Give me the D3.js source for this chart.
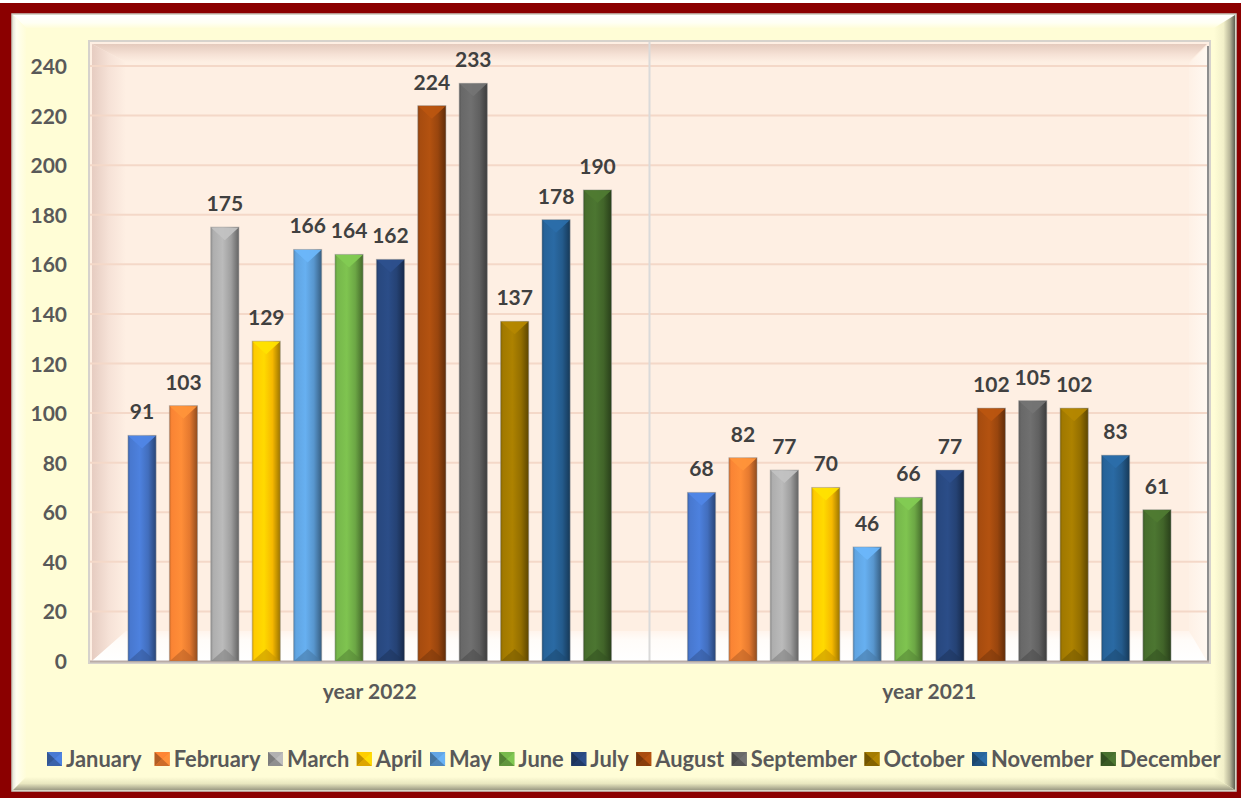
<!DOCTYPE html>
<html><head><meta charset="utf-8">
<script src="https://cdn.jsdelivr.net/npm/d3@7"></script>
<style>html,body{margin:0;padding:0;background:#fff;} svg{display:block;}</style>
</head><body>
<svg id="c" width="1241" height="798"></svg>
<script>
const years = ["year 2022", "year 2021"];
const months = ["January","February","March","April","May","June","July","August","September","October","November","December"];
const values2022 = [91,103,175,129,166,164,162,224,233,137,178,190];
const values2021 = [68,82,77,70,46,66,77,102,105,102,83,61];
const yTicks = [0,20,40,60,80,100,120,140,160,180,200,220,240];
const monthColors = ["#4472C4","#ED7D31","#A5A5A5","#FFC000","#5B9BD5","#70AD47","#264478","#9E480E","#636363","#997300","#255E91","#43682B"];

const seriesByYear = [values2022, values2021];
const W = 1241, H = 798;
const svg = d3.select("#c");
const defs = svg.append("defs");
const FONT = "Lato, 'Open Sans', sans-serif";

function lin(id, dir, stops) {
  const g = defs.append("linearGradient").attr("id", id)
    .attr("x1", 0).attr("y1", 0).attr("x2", dir === "h" ? 1 : 0).attr("y2", dir === "h" ? 0 : 1);
  stops.forEach(s => g.append("stop").attr("offset", s[0]).attr("stop-color", s[1]).attr("stop-opacity", s[2] == null ? 1 : s[2]));
  return `url(#${id})`;
}

// outer frame
svg.append("rect").attr("x", 0).attr("y", 3).attr("width", W).attr("height", H - 3).attr("fill", "#8B0000");
const P = {x0: 12, y0: 14, x1: 1236, y1: 791, b: 14};
svg.append("rect").attr("x", P.x0).attr("y", P.y0).attr("width", P.x1 - P.x0).attr("height", P.y1 - P.y0)
  .attr("fill", "#FFFDD6").attr("stroke", "#C9C9C0").attr("stroke-width", 1.5);
const pts = a => a.map(p => p.join(",")).join(" ");
svg.append("polygon").attr("points", pts([[P.x0+1,P.y0+1],[P.x1-1,P.y0+1],[P.x1-P.b,P.y0+P.b],[P.x0+P.b,P.y0+P.b]]))
  .attr("fill", lin("bvT","v",[[0,"#FFFFFF"],[0.6,"#FFFFF4"],[1,"#FFFDDA"]]));
svg.append("polygon").attr("points", pts([[P.x0+1,P.y0+1],[P.x0+P.b,P.y0+P.b],[P.x0+P.b,P.y1-P.b],[P.x0+1,P.y1-1]]))
  .attr("fill", lin("bvL","h",[[0,"#E8E8DC"],[0.25,"#FFFFF0"],[1,"#FFFDD8"]]));
svg.append("polygon").attr("points", pts([[P.x1-1,P.y0+1],[P.x1-1,P.y1-1],[P.x1-P.b-8,P.y1-P.b],[P.x1-P.b-8,P.y0+P.b]]))
  .attr("fill", lin("bvR","h",[[0,"#FFFDD6"],[0.45,"#F2F0C9"],[0.75,"#B9B79A"],[1,"#5E5D50"]]));
svg.append("polygon").attr("points", pts([[P.x0+1,P.y1-1],[P.x0+P.b,P.y1-P.b],[P.x1-P.b-8,P.y1-P.b],[P.x1-1,P.y1-1]]))
  .attr("fill", lin("bvB","v",[[0,"#FFFDD6"],[0.5,"#E9E7C0"],[1,"#9C9A84"]]));

// plot area
const plot = {x0: 90, x1: 1209, top: 42, bottom: 661};
const y = d3.scaleLinear().domain([0, 240]).range([661, 66]);
const x0 = d3.scaleBand().domain(years).range([plot.x0, plot.x1]).paddingInner(0.112).paddingOuter(0.056);
const x1 = d3.scaleBand().domain(months).range([0, x0.bandwidth()]).paddingInner(0.32).paddingOuter(0.16);

svg.append("rect").attr("x", plot.x0 - 1).attr("y", plot.top - 1).attr("width", plot.x1 - plot.x0 + 2).attr("height", plot.bottom - plot.top + 3)
  .attr("fill", "#FEEFE3").attr("stroke", "#D6D2CC").attr("stroke-width", 2);
// left wall
svg.append("polygon").attr("points", pts([[plot.x0+2,plot.top+2],[plot.x0+36,plot.top+20],[plot.x0+36,632],[plot.x0+2,plot.bottom]]))
  .attr("fill", lin("wl","h",[[0,"#E6CCC1"],[0.5,"#F6E2D7"],[1,"#FEEFE3"]]));
// top wall
svg.append("polygon").attr("points", pts([[plot.x0+2,plot.top+2],[plot.x1-2,plot.top+2],[plot.x1-20,plot.top+20],[plot.x0+36,plot.top+20]]))
  .attr("fill", lin("wt","v",[[0,"#E4CABD"],[0.6,"#F6E2D6"],[1,"#FEEFE3"]]));
// right wall
svg.append("polygon").attr("points", pts([[plot.x1-2,plot.top+4],[plot.x1-2,plot.bottom],[plot.x1-20,632],[plot.x1-20,plot.top+21]]))
  .attr("fill", lin("wr","h",[[0,"#FEF1E6"],[1,"#FFF8F1"]]));
// floor
svg.append("polygon").attr("points", pts([[plot.x0+2,plot.bottom],[plot.x0+36,631],[plot.x1-20,631],[plot.x1-2,plot.bottom]]))
  .attr("fill", lin("fl","v",[[0,"#FFF4EC"],[0.3,"#FFFCF9"],[1,"#FFFFFF"]]));

// gridlines
svg.append("g").selectAll("line").data(yTicks.filter(d => d > 0)).join("line")
  .attr("x1", plot.x0).attr("x2", plot.x1 - 2)
  .attr("y1", d => y(d)).attr("y2", d => y(d))
  .attr("stroke", "#F4D8C8").attr("stroke-width", 2);
// divider
svg.append("line").attr("x1", x0(years[1]) - x0.step() * 0.056).attr("x2", x0(years[1]) - x0.step() * 0.056)
  .attr("y1", plot.top).attr("y2", plot.bottom).attr("stroke", "#DADADA").attr("stroke-width", 2);
// right edge and floor line
svg.append("line").attr("x1", plot.x1 - 1).attr("x2", plot.x1 - 1).attr("y1", plot.top + 4).attr("y2", plot.bottom + 1)
  .attr("stroke", "#8E8E8E").attr("stroke-width", 2);
svg.append("line").attr("x1", plot.x0).attr("x2", plot.x1).attr("y1", plot.bottom + 0.5).attr("y2", plot.bottom + 0.5)
  .attr("stroke", "#B9ACA6").attr("stroke-width", 2);

// y axis labels
const yAxis = d3.axisLeft(y).tickValues(yTicks).tickSize(0).tickPadding(0);
const gy = svg.append("g").attr("transform", "translate(67,0)").call(yAxis);
gy.select(".domain").remove();
gy.selectAll("text").attr("font-family", FONT).attr("font-weight", 700).attr("font-size", 21)
  .attr("fill", "#595959").attr("dy", "0.36em");

// x category labels
const xAxis = d3.axisBottom(x0).tickSize(0).tickPadding(0);
const gx = svg.append("g").attr("transform", "translate(0,684)").call(xAxis);
gx.select(".domain").remove();
gx.selectAll("text").attr("font-family", FONT).attr("font-weight", 700).attr("font-size", 21)
  .attr("fill", "#595959").attr("dy", "0.71em");

// bar gradients
monthColors.forEach((c, i) => {
  const col = d3.color(c);
  lin("bar" + i, "h", [[0, col.darker(0.5)], [0.08, col.brighter(0.15)], [0.42, col.brighter(0.35)], [0.72, col.darker(0.1)], [1, col.darker(1.4)]]);
});

const data = [];
years.forEach((yr, gi) => months.forEach((m, mi) => data.push({year: yr, month: m, mi, value: seriesByYear[gi][mi]})));

const bars = svg.append("g").selectAll("g").data(data).join("g")
  .attr("transform", d => `translate(${x0(d.year) + x1(d.month)},0)`);
const bw = x1.bandwidth();
bars.append("rect").attr("x", 0).attr("y", d => y(d.value)).attr("width", bw).attr("height", d => y(0) - y(d.value))
  .attr("fill", d => `url(#bar${d.mi})`).attr("stroke", "#9A9A9A").attr("stroke-opacity", 0.5).attr("stroke-width", 1);
bars.append("polygon").attr("points", d => pts([[0.5, y(d.value) + 0.5], [bw - 0.5, y(d.value) + 0.5], [bw / 2, y(d.value) + 13]]))
  .attr("fill", d => d3.color(monthColors[d.mi]).brighter(0.45)).attr("opacity", 0.95);
bars.append("polygon").attr("points", d => pts([[0.5, y(0)], [bw - 0.5, y(0)], [bw / 2, y(0) - 12]]))
  .attr("fill", d => d3.color(monthColors[d.mi]).darker(0.7)).attr("opacity", 0.6);
bars.append("text").attr("x", bw / 2).attr("y", d => y(d.value) - 16)
  .attr("text-anchor", "middle").attr("font-family", FONT).attr("font-weight", 700).attr("font-size", 21)
  .attr("fill", "#404040").text(d => d.value);

// legend
const lg = svg.append("g");
let lx = 47;
months.forEach((m, i) => {
  const col = d3.color(monthColors[i]);
  const g = lg.append("g").attr("transform", `translate(${lx},752)`);
  const s = 15, h = 14;
  g.append("rect").attr("width", s).attr("height", h).attr("fill", col);
  g.append("polygon").attr("points", pts([[0,0],[s,0],[s/2,h/2]])).attr("fill", col.brighter(0.2));
  g.append("polygon").attr("points", pts([[0,0],[0,h],[s/2,h/2]])).attr("fill", col.darker(0.8));
  g.append("polygon").attr("points", pts([[s,0],[s,h],[s/2,h/2]])).attr("fill", col.brighter(0.4));
  g.append("polygon").attr("points", pts([[0,h],[s,h],[s/2,h/2]])).attr("fill", col.darker(0.4));
  const t = g.append("text").attr("x", s + 4).attr("y", 14.5).attr("font-family", FONT).attr("font-weight", 700)
    .attr("font-size", 21.9).attr("fill", "#595959").text(m);
  lx += s + 4 + t.node().getComputedTextLength() + (i === 0 ? 13 : 7.5);
});
</script>
</body></html>
